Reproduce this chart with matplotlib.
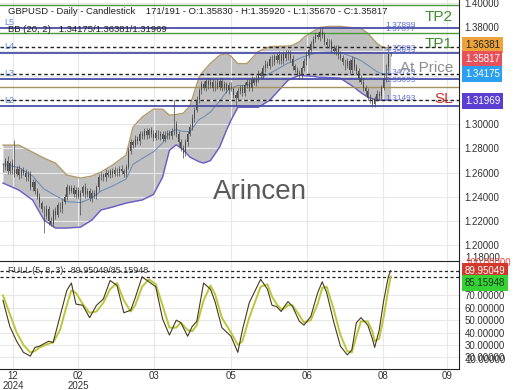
import matplotlib
matplotlib.use("Agg")
import matplotlib.pyplot as plt
import numpy as np

plt.rcParams['font.family'] = ['Liberation Sans', 'DejaVu Sans']

# ---- price data (daily candles) ----
first_open = 1.2630
closes = [
    1.2650, 1.2700, 1.2610, 1.2680, 1.2620, 1.2590, 1.2630, 1.2580, 1.2620, 1.2600,
    1.2560, 1.2590, 1.2480, 1.2520, 1.2450, 1.2400, 1.2350, 1.2300, 1.2240, 1.2300,
    1.2200, 1.2180, 1.2280, 1.2250, 1.2330, 1.2300, 1.2360, 1.2400, 1.2480, 1.2450,
    1.2470, 1.2420, 1.2460, 1.2400, 1.2430, 1.2480, 1.2420, 1.2450, 1.2390, 1.2430,
    1.2410, 1.2480, 1.2560, 1.2580, 1.2560, 1.2600, 1.2580, 1.2610, 1.2590, 1.2620,
    1.2600, 1.2630, 1.2610, 1.2590, 1.2650, 1.2780, 1.2850, 1.2830, 1.2880, 1.2860,
    1.2920, 1.2900, 1.2940, 1.2910, 1.2950, 1.2920, 1.2890, 1.2930, 1.2900, 1.2920,
    1.2880, 1.2910, 1.2930, 1.2900, 1.2940, 1.3000, 1.2920, 1.2850, 1.2800, 1.2760,
    1.2850, 1.2920, 1.2980, 1.3050, 1.3120, 1.3200, 1.3280, 1.3330, 1.3300, 1.3360,
    1.3320, 1.3350, 1.3300, 1.3340, 1.3310, 1.3360, 1.3300, 1.3330, 1.3280, 1.3320,
    1.3290, 1.3240, 1.3220, 1.3270, 1.3300, 1.3260, 1.3320, 1.3350, 1.3300, 1.3370,
    1.3340, 1.3380, 1.3420, 1.3400, 1.3460, 1.3500, 1.3480, 1.3540, 1.3510, 1.3560,
    1.3530, 1.3570, 1.3520, 1.3580, 1.3550, 1.3590, 1.3540, 1.3480, 1.3450, 1.3420,
    1.3400, 1.3460, 1.3520, 1.3570, 1.3610, 1.3660, 1.3700, 1.3740, 1.3720, 1.3760,
    1.3740, 1.3680, 1.3650, 1.3680, 1.3620, 1.3600, 1.3630, 1.3570, 1.3550, 1.3510,
    1.3480, 1.3520, 1.3450, 1.3530, 1.3470, 1.3440, 1.3380, 1.3350, 1.3300, 1.3270,
    1.3220, 1.3200, 1.3170, 1.3210, 1.3250, 1.3230, 1.3300, 1.3380, 1.3470, 1.3583,
    1.35817,
]
# wick lengths above / below the body, in pips
wick_up = [
    30, 25, 35, 20, 30, 248, 25, 30, 20, 25,
    30, 20, 25, 30, 20, 25, 30, 20, 25, 30,
    25, 30, 20, 35, 25, 30, 20, 25, 30, 20,
    25, 30, 20, 25, 30, 20, 35, 25, 20, 30,
    25, 20, 30, 25, 20, 30, 25, 20, 30, 25,
    20, 25, 30, 20, 25, 30, 25, 20, 30, 25,
    20, 25, 30, 25, 20, 25, 30, 20, 25, 20,
    25, 30, 20, 25, 30, 200, 25, 20, 30, 25,
    30, 25, 20, 30, 25, 30, 20, 25, 30, 20,
    25, 30, 20, 25, 30, 20, 25, 30, 20, 25,
    30, 20, 25, 30, 20, 25, 30, 20, 25, 30,
    20, 25, 30, 20, 25, 30, 20, 25, 30, 20,
    25, 30, 20, 25, 30, 20, 25, 30, 20, 25,
    30, 20, 25, 30, 20, 25, 30, 20, 25, 30,
    40, 25, 30, 20, 25, 30, 20, 25, 30, 20,
    25, 30, 20, 30, 25, 30, 20, 25, 30, 20,
    25, 30, 20, 25, 30, 20, 25, 30, 25, 20,
    9,
]
wick_dn = [
    25, 30, 20, 25, 30, 25, 20, 30, 25, 20,
    30, 25, 20, 30, 25, 20, 30, 25, 140, 25,
    30, 20, 25, 30, 20, 25, 30, 20, 25, 30,
    20, 25, 30, 20, 150, 25, 30, 20, 25, 30,
    20, 25, 30, 20, 25, 30, 20, 25, 30, 20,
    25, 30, 20, 25, 30, 20, 25, 30, 20, 25,
    30, 20, 25, 30, 20, 25, 30, 20, 25, 30,
    20, 25, 30, 20, 25, 30, 25, 30, 20, 40,
    25, 30, 20, 25, 30, 20, 25, 30, 20, 25,
    30, 20, 25, 30, 20, 25, 30, 20, 25, 30,
    20, 25, 60, 30, 20, 25, 30, 20, 25, 30,
    20, 25, 30, 20, 25, 30, 20, 25, 30, 20,
    25, 30, 20, 25, 30, 20, 25, 30, 20, 25,
    30, 25, 20, 30, 25, 20, 30, 25, 20, 30,
    25, 30, 20, 25, 30, 20, 25, 30, 20, 25,
    30, 20, 25, 30, 20, 25, 30, 20, 25, 30,
    20, 25, 30, 25, 20, 30, 25, 20, 30, 25,
    15,
]

# ---- Bollinger bands (20, 2) ----
band_x = [0, 7, 13, 18, 23, 28, 34, 39, 43, 48, 54, 57, 61, 66, 70, 73, 76, 79, 82, 86,
          88, 91, 95, 98, 100, 103, 107, 112, 117, 125, 127, 130, 132, 136, 139, 143,
          148, 154, 157, 160, 164, 166, 168, 170]
band_upper = [1.2827, 1.2827, 1.2769, 1.2720, 1.2679, 1.2580, 1.2555, 1.2572, 1.2605, 1.2662,
              1.2745, 1.2975, 1.3058, 1.3124, 1.3124, 1.3074, 1.3080, 1.3090, 1.3150, 1.3387,
              1.3440, 1.3502, 1.3568, 1.3585, 1.3560, 1.3500, 1.3500, 1.3600, 1.3640, 1.3645,
              1.3651, 1.3680, 1.3717, 1.3766, 1.3799, 1.3807, 1.3807, 1.3795, 1.3791, 1.3750,
              1.3667, 1.3640, 1.3630, 1.36381]
band_lower = [1.2514, 1.2456, 1.2374, 1.2209, 1.2143, 1.2143, 1.2150, 1.2209, 1.2292, 1.2316,
              1.2349, 1.2360, 1.2374, 1.2420, 1.2563, 1.2785, 1.2830, 1.2790, 1.2728, 1.2690,
              1.2679, 1.2700, 1.2811, 1.2950, 1.3033, 1.3140, 1.3140, 1.3140, 1.3198, 1.3363,
              1.3380, 1.3404, 1.3400, 1.3395, 1.3387, 1.3385, 1.3379, 1.3305, 1.3260, 1.3223,
              1.3200, 1.3198, 1.3198, 1.31969]

# ---- Full stochastic (5, 8, 3) ----
stoch_x = [0, 3, 6, 9, 12, 14, 16, 20, 22, 25, 28, 30, 32, 35, 38, 41, 44, 47, 50, 53,
           56, 58, 61, 64, 67, 70, 73, 76, 78, 81, 83, 85, 88, 91, 93, 96, 100, 103, 105, 108,
           113, 116, 118, 120, 122, 123, 125, 127, 130, 132, 135, 138, 140, 142, 145, 148,
           151, 153, 155, 157, 160, 162, 163, 165, 167, 169, 170]
stoch_k = [66, 45, 33, 24, 21, 28, 29, 33, 32, 53, 74, 80, 63, 62, 52, 62, 67, 82, 78, 56,
           58, 68, 85, 81, 77, 51, 38, 50, 48, 37, 45, 49, 80, 75, 65, 44, 37, 24, 42, 64,
           83, 75, 62, 61, 57, 60, 65, 61, 49, 46, 53, 72, 81, 72, 49, 29,
           22, 26, 48, 52, 46, 35, 28, 42, 66, 85, 89.95049]
stoch_d = [70, 55, 40, 30, 24, 25, 28, 31, 32, 42, 62, 74, 72, 63, 56, 57, 64, 75, 80, 66,
           57, 62, 77, 83, 79, 62, 44, 44, 48, 42, 41, 46, 66, 78, 71, 52, 40, 30, 33, 52,
           77, 79, 69, 63, 59, 59, 62, 62, 54, 48, 50, 63, 76, 77, 59, 38,
           25, 24, 37, 49, 49, 41, 33, 35, 53, 75, 85.15948]

# ---- levels ----
levels_purple = [1.37899, 1.35893, 1.33729, 1.31493]
level_names = ['L5', 'L4', 'L3', 'L2']
levels_green = [1.3983, 1.3752]
level_olive = 1.33030
bb_last = [1.36381, 1.34175, 1.31969]
small_labels = [('1.37899', 1.3814), ('1.37877', 1.3781), ('1.35893', 1.3628), ('1.35823', 1.3592),
                ('1.34729', 1.3425), ('1.33099', 1.3360), ('1.31493', 1.3210)]
signal_labels = [('TP2', 1.3881, '#3f8d2c'), ('TP1', 1.3659, '#3f8d2c'),
                 ('At Price', 1.3461, '#8e8e8e'), ('SL', 1.3206, '#cc3333')]

tick_pos = [4.4, 32.9, 66.4, 100.2, 133.2, 166.5, 194.6]
tick_lab = ['12\n2024', '02\n2025', '03', '05', '06', '08', '09']

# ---- build figure ----
W, H = 520, 390
fig = plt.figure(figsize=(W / 100, H / 100), dpi=100)


def box(x0, y0, x1, y1):
    return [x0 / W, 1 - y1 / H, (x1 - x0) / W, (y1 - y0) / H]


ax = fig.add_axes(box(0, 0, 459, 260))
ax2 = fig.add_axes(box(0, 260.7, 459, 369), sharex=ax)

bars = np.arange(len(closes))
c = np.array(closes)
o = np.array([first_open] + closes[:-1])
hi = np.maximum(o, c) + np.array(wick_up) / 10000
lo = np.minimum(o, c) - np.array(wick_dn) / 10000

# bands
bu = np.array(band_upper)
bl = np.array(band_lower)
ax.fill_between(band_x, bl, bu, color='#c0c0c0', lw=0, zorder=1)
ax.plot(band_x, bu, color='#b09a6a', lw=1.0, zorder=2)
ax.plot(band_x, bl, color='#6a5cc8', lw=1.0, zorder=2)
ax.plot(band_x, (bu + bl) / 2, color='#7090b8', lw=0.8, zorder=2)

# candles
ax.vlines(bars, lo, hi, color='#4a4a4a', lw=0.5, zorder=4)
body = np.maximum(np.abs(c - o), 0.0003)
ax.bar(bars, body, bottom=np.minimum(o, c), width=0.4, color='#4a4a4a', lw=0, zorder=4)

# level lines
for lv in levels_green:
    ax.axhline(lv, color='#4a9a3a', lw=1.0, zorder=3)
for lv in levels_purple:
    ax.axhline(lv, color='#4b4fa8', lw=1.3, zorder=3)
ax.axhline(level_olive, color='#a4925c', lw=1.0, zorder=3)
for lv in bb_last:
    ax.axhline(lv, color='#222222', lw=1.0, ls=(0, (2.5, 2)), zorder=3)

tr = ax.get_yaxis_transform()
for name, lv in zip(level_names, levels_purple):
    ax.text(0.01, lv + 0.0012, name, transform=tr, fontsize=6.5, color='#5a86d6',
            va='bottom', zorder=6)
for txt, y in small_labels:
    ax.text(0.839, y, txt, transform=tr, fontsize=6, color='#6070d0', va='center', zorder=6)
for txt, y, col in signal_labels:
    ax.text(0.987, y, txt, transform=tr, fontsize=11, color=col, ha='right', va='center', zorder=6)

ax.text(0.566, 0.2615, 'Arincen', transform=ax.transAxes, fontsize=20, color='#5a5a5a',
        ha='center', va='center', zorder=5)

ax.set_ylim(1.1879, 1.4025)
ax.set_xlim(-1.3, 200)
ax.set_yticks(np.arange(1.20, 1.401, 0.02))
ax.yaxis.set_major_formatter(matplotlib.ticker.FormatStrFormatter('%.5f'))
ax.yaxis.tick_right()
ax.tick_params(axis='y', length=0, pad=4, labelsize=7, labelcolor='#333333')
ax.tick_params(axis='x', length=0, labelbottom=False)
ax.set_xticks(tick_pos)
ax.grid(True, color='#e8e8e8', lw=0.8, zorder=0)
for s in ['left', 'top', 'bottom']:
    ax.spines[s].set_visible(False)
ax.spines['right'].set_color('#222222')

# ---- stochastic panel ----
ax2.plot(stoch_x, stoch_d, color='#b9c83a', lw=1.4, zorder=3)
ax2.plot(stoch_x, stoch_k, color='#4a3820', lw=0.8, zorder=4)
ax2.axhline(stoch_k[-1], color='#222222', lw=0.9, ls=(0, (2.5, 2)), zorder=2)
ax2.axhline(stoch_d[-1], color='#222222', lw=0.9, ls=(0, (2.5, 2)), zorder=2)
ax2.text(0.017, stoch_k[-1], 'FULL (5, 8, 3):  %.5f/%.5f' % (stoch_k[-1], stoch_d[-1]),
         transform=ax2.get_yaxis_transform(), fontsize=6.5, color='#333333', va='center', zorder=5)
ax2.set_ylim(10.6, 98)
ax2.set_yticks([20, 30, 40, 50, 60, 70])
ax2.yaxis.set_major_formatter(matplotlib.ticker.FormatStrFormatter('%.5f'))
ax2.yaxis.tick_right()
ax2.tick_params(axis='y', length=0, pad=4, labelsize=7, labelcolor='#333333')
ax2.set_xticks(tick_pos)
ax2.set_xticklabels(tick_lab, linespacing=0.95)
ax2.tick_params(axis='x', length=0, pad=1.5, labelsize=7, labelcolor='#333333')
ax2.grid(True, color='#e8e8e8', lw=0.8, zorder=0)
ax2.spines['left'].set_visible(False)
for s in ['right', 'top', 'bottom']:
    ax2.spines[s].set_color('#222222')

# ---- header texts ----
fig.text(8 / W, 1 - 12 / H, 'GBPUSD - Daily - Candlestick    171/191 - O:1.35830 - H:1.35920 - L:1.35670 - C:1.35817',
         fontsize=6.8, color='#222222', va='center')
fig.text(8 / W, 1 - 30 / H, 'BB (20, 2)   %.5f/%.5f/%.5f' % (bb_last[1], bb_last[0], bb_last[2]),
         fontsize=6.8, color='#222222', va='center')

# ---- right side value boxes ----
def tag(y, txt, bg, fg):
    fig.text(465 / W, 1 - y / H, txt, fontsize=7, color=fg, va='center',
             bbox=dict(facecolor=bg, edgecolor='none', pad=1.8), zorder=10)


fig.text(465 / W, 1 - 258 / H, '1.18000', fontsize=7, color='#333333', va='center')
fig.text(465 / W, 1 - 263 / H, '100.00000', fontsize=7, color='#ff4040', va='center')
fig.text(465 / W, 1 - 360 / H, '10.00000', fontsize=7, color='#333333', va='center')
tag(45, '1.36381', '#eda33a', '#222222')
tag(59, '%.5f' % closes[-1], '#e8505a', 'white')
tag(74, '%.5f' % bb_last[1], '#2c9ff0', 'white')
tag(101, '%.5f' % bb_last[2], '#5b3fd2', 'white')
tag(271, '%.5f' % stoch_k[-1], '#d2382c', 'white')
tag(283, '%.5f' % stoch_d[-1], '#36d236', '#1a3a1a')

fig.savefig('out.png', dpi=100)
